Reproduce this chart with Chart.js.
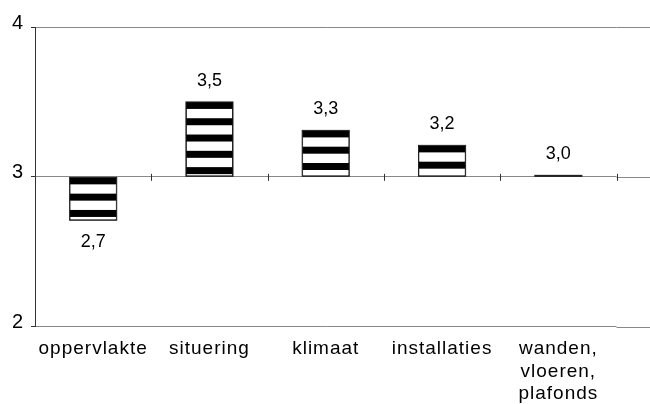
<!DOCTYPE html>
<html>
<head>
<meta charset="utf-8">
<script src="https://cdn.jsdelivr.net/npm/chart.js@4/dist/chart.umd.min.js"></script>
<style>
  html, body { margin: 0; padding: 0; background: #fff; }
  canvas { display: block; }
</style>
</head>
<body>
<canvas id="chart" width="650" height="404"></canvas>
<script>
const categories = [
  "oppervlakte",
  "situering",
  "klimaat",
  "installaties",
  ["wanden,", "vloeren,", "plafonds"],
];
const scores = [2.71, 3.5, 3.31, 3.21, 3.01];
const baseValue = 3;
const yTicks = [2, 3, 4];

const fontFamily = '"Liberation Sans", Arial, sans-serif';
const fmt = (v) => v.toFixed(1).replace(".", ",");

// horizontal black stripes inside each bar, starting from the bar's top edge
const stripes = {
  id: "stripes",
  beforeDraw(chart) {
    chart.ctx.letterSpacing = "1px";
  },
  afterDatasetsDraw(chart) {
    const ctx = chart.ctx;
    const meta = chart.getDatasetMeta(0);
    ctx.save();
    meta.data.forEach((bar, i) => {
      const { x, y, base, width } = bar.getProps(["x", "y", "base", "width"], true);
      const top = Math.min(y, base);
      const bottom = Math.max(y, base);
      const left = x - width / 2;
      ctx.save();
      ctx.beginPath();
      ctx.rect(left, top, width, bottom - top);
      ctx.clip();
      ctx.fillStyle = "#000";
      for (let yy = top; yy < bottom; yy += 16.3) {
        ctx.fillRect(left, yy, width, 7);
      }
      ctx.restore();
      ctx.strokeStyle = "#222";
      ctx.lineWidth = 1;
      ctx.strokeRect(left, top, width, bottom - top);

      // value label
      const v = scores[i];
      ctx.font = "18px " + fontFamily;
      ctx.letterSpacing = "0px";
      ctx.fillStyle = "#000";
      ctx.textAlign = "center";
      ctx.textBaseline = "alphabetic";
      if (v >= baseValue) {
        ctx.fillText(fmt(v), x, top - 16);
      } else {
        ctx.fillText(fmt(v), x, bottom + 26.5);
      }
    });
    ctx.restore();
  },
  afterDraw(chart) {
    const ctx = chart.ctx;
    const { left, right } = chart.chartArea;
    const xs = chart.scales.x;
    const ys = chart.scales.y;
    ctx.save();
    // gridlines continue past the plot to the right edge
    ctx.strokeStyle = "#888";
    ctx.lineWidth = 1;
    yTicks.forEach((t) => {
      const py = Math.round(ys.getPixelForValue(t)) + 0.5;
      ctx.beginPath();
      ctx.moveTo(right, py);
      ctx.lineTo(chart.width, py);
      ctx.stroke();
    });
    // category tick marks on the crossing line at 3
    const py = ys.getPixelForValue(baseValue);
    const marks = [left];
    for (let i = 0; i < categories.length - 1; i++) {
      marks.push((xs.getPixelForValue(i) + xs.getPixelForValue(i + 1)) / 2);
    }
    marks.push(right);
    ctx.strokeStyle = "#333";
    marks.forEach((mx) => {
      const px = Math.round(mx) + 0.5;
      ctx.beginPath();
      ctx.moveTo(px, py - 3);
      ctx.lineTo(px, py + 4);
      ctx.stroke();
    });
    ctx.restore();
  },
};

new Chart(document.getElementById("chart"), {
  type: "bar",
  data: {
    labels: categories,
    datasets: [
      {
        data: scores,
        base: baseValue,
        backgroundColor: "#fff",
        borderColor: "#222",
        borderWidth: 1,
        borderSkipped: false,
        categoryPercentage: 0.81,
        barPercentage: 0.5,
      },
    ],
  },
  options: {
    responsive: false,
    animation: false,
    devicePixelRatio: 1,
    layout: { padding: { top: 27, right: 33.5, left: 0, bottom: 0 } },
    plugins: {
      legend: { display: false },
      tooltip: { enabled: false },
    },
    scales: {
      x: {
        grid: { display: false, drawTicks: false },
        border: { display: false },
        afterFit: (scale) => {
          scale.height = 77.3;
        },
        ticks: {
          color: "#000",
          padding: 11,
          maxRotation: 0,
          autoSkip: false,
          font: { family: fontFamily, size: 19, lineHeight: 1.18 },
        },
      },
      y: {
        min: 2,
        max: 4,
        afterFit: (scale) => {
          scale.width = 35;
        },
        afterBuildTicks: (scale) => {
          scale.ticks = yTicks.map((v) => ({ value: v }));
        },
        grid: { color: "#888", tickColor: "#333", tickLength: 4 },
        border: { color: "#333" },
        ticks: {
          color: "#000",
          padding: 7,
          labelOffset: -4,
          font: { family: fontFamily, size: 20 },
        },
      },
    },
  },
  plugins: [stripes],
});
</script>
</body>
</html>
